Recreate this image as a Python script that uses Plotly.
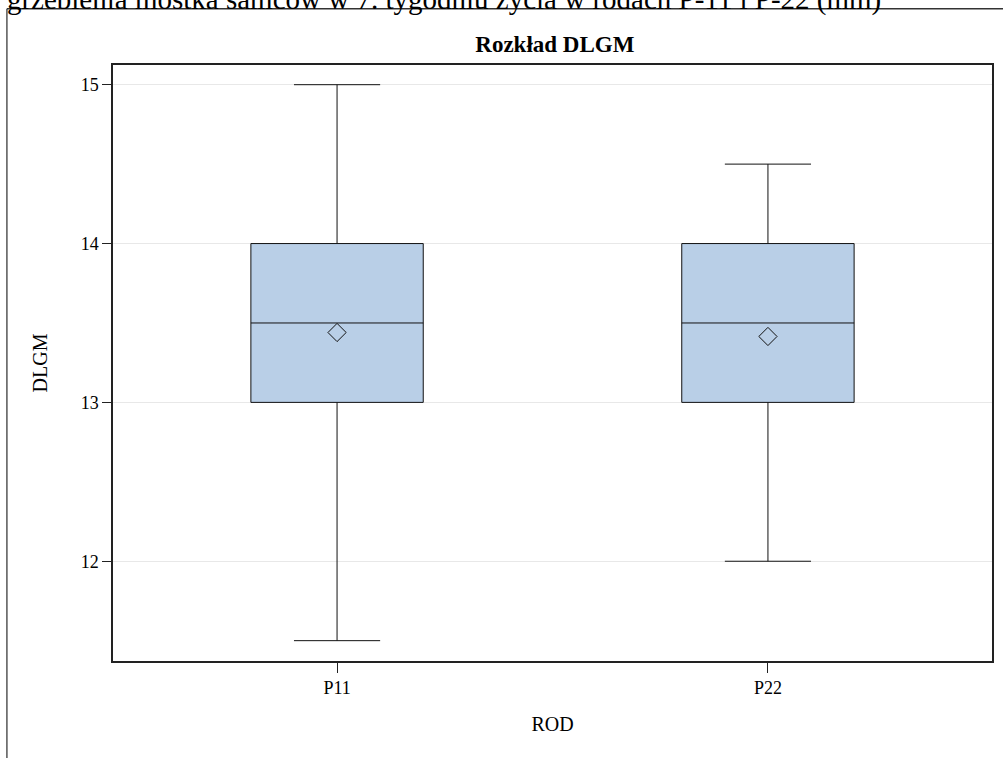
import plotly.graph_objects as go

categories = ["P11", "P22"]
lower_whisker = [11.5, 12.0]
q1 = [13.0, 13.0]
median = [13.5, 13.5]
q3 = [14.0, 14.0]
upper_whisker = [15.0, 14.5]
means = [13.44, 13.415]
y_ticks = [12, 13, 14, 15]

FONT = "Liberation Serif, Times New Roman, serif"

fig = go.Figure()
fig.add_trace(go.Box(
    x=categories, q1=q1, median=median, q3=q3,
    lowerfence=lower_whisker, upperfence=upper_whisker,
    width=0.4, whiskerwidth=0.5,
    fillcolor="#B9CFE7", line=dict(color="#111111", width=1),
    boxpoints=False, showlegend=False, hoverinfo="skip",
))
fig.add_trace(go.Scatter(
    x=categories, y=means, mode="markers",
    marker=dict(symbol="diamond-open", size=14, color="#111111", line=dict(width=1, color="#111111")),
    showlegend=False, hoverinfo="skip",
))

L, R, T, B = 113.3, 994.0, 65.3, 660.7
W, H = 1003, 758
pw, ph = R - L, B - T
def px(x):
    return (x - L) / pw
def py(y):
    return (B - y) / ph

fig.update_layout(
    width=W, height=H,
    margin=dict(l=L, r=W - R, t=T, b=H - B, pad=0),
    paper_bgcolor="white", plot_bgcolor="white",
    font=dict(family=FONT, color="black", size=18),
    title=dict(text="<b>Rozkład DLGM</b>", x=px(556), xref="paper", xanchor="center",
               y=1 - 44 / H, yref="container", yanchor="middle",
               font=dict(family=FONT, size=23, color="black")),
    xaxis=dict(
        range=[-0.52, 1.52], showline=True, mirror=True, linecolor="#222222", linewidth=1.5,
        ticks="outside", ticklen=10, tickcolor="#222222", tickwidth=1,
        showgrid=False, zeroline=False,
        title=dict(text="ROD", font=dict(size=20), standoff=20),
        tickfont=dict(size=18),
    ),
    yaxis=dict(
        range=[11.372, 15.124], tickvals=y_ticks, showline=True, mirror=True,
        linecolor="#222222", linewidth=1.5,
        ticks="outside", ticklen=9, tickcolor="#222222", tickwidth=1,
        showgrid=True, gridcolor="#e8e8e8", gridwidth=1, zeroline=False,
        title=dict(text="DLGM", font=dict(size=20), standoff=28),
        tickfont=dict(size=18),
    ),
    shapes=[
        dict(type="line", xref="paper", yref="paper", x0=px(7), x1=px(7), y0=py(9), y1=py(800),
             line=dict(color="#555555", width=1.5)),
        dict(type="line", xref="paper", yref="paper", x0=px(7), x1=px(1010), y0=py(9), y1=py(9),
             line=dict(color="#333333", width=1.5)),
    ],
    annotations=[
        dict(text="Długość grzebienia mostka samców w 7. tygodniu życia w rodach P-11 i P-22 (mm)",
             xref="paper", yref="paper", x=px(885), y=py(0), xanchor="right", yanchor="middle",
             showarrow=False, font=dict(family=FONT, size=29, color="black")),
    ],
)

fig.write_html("out.html")
